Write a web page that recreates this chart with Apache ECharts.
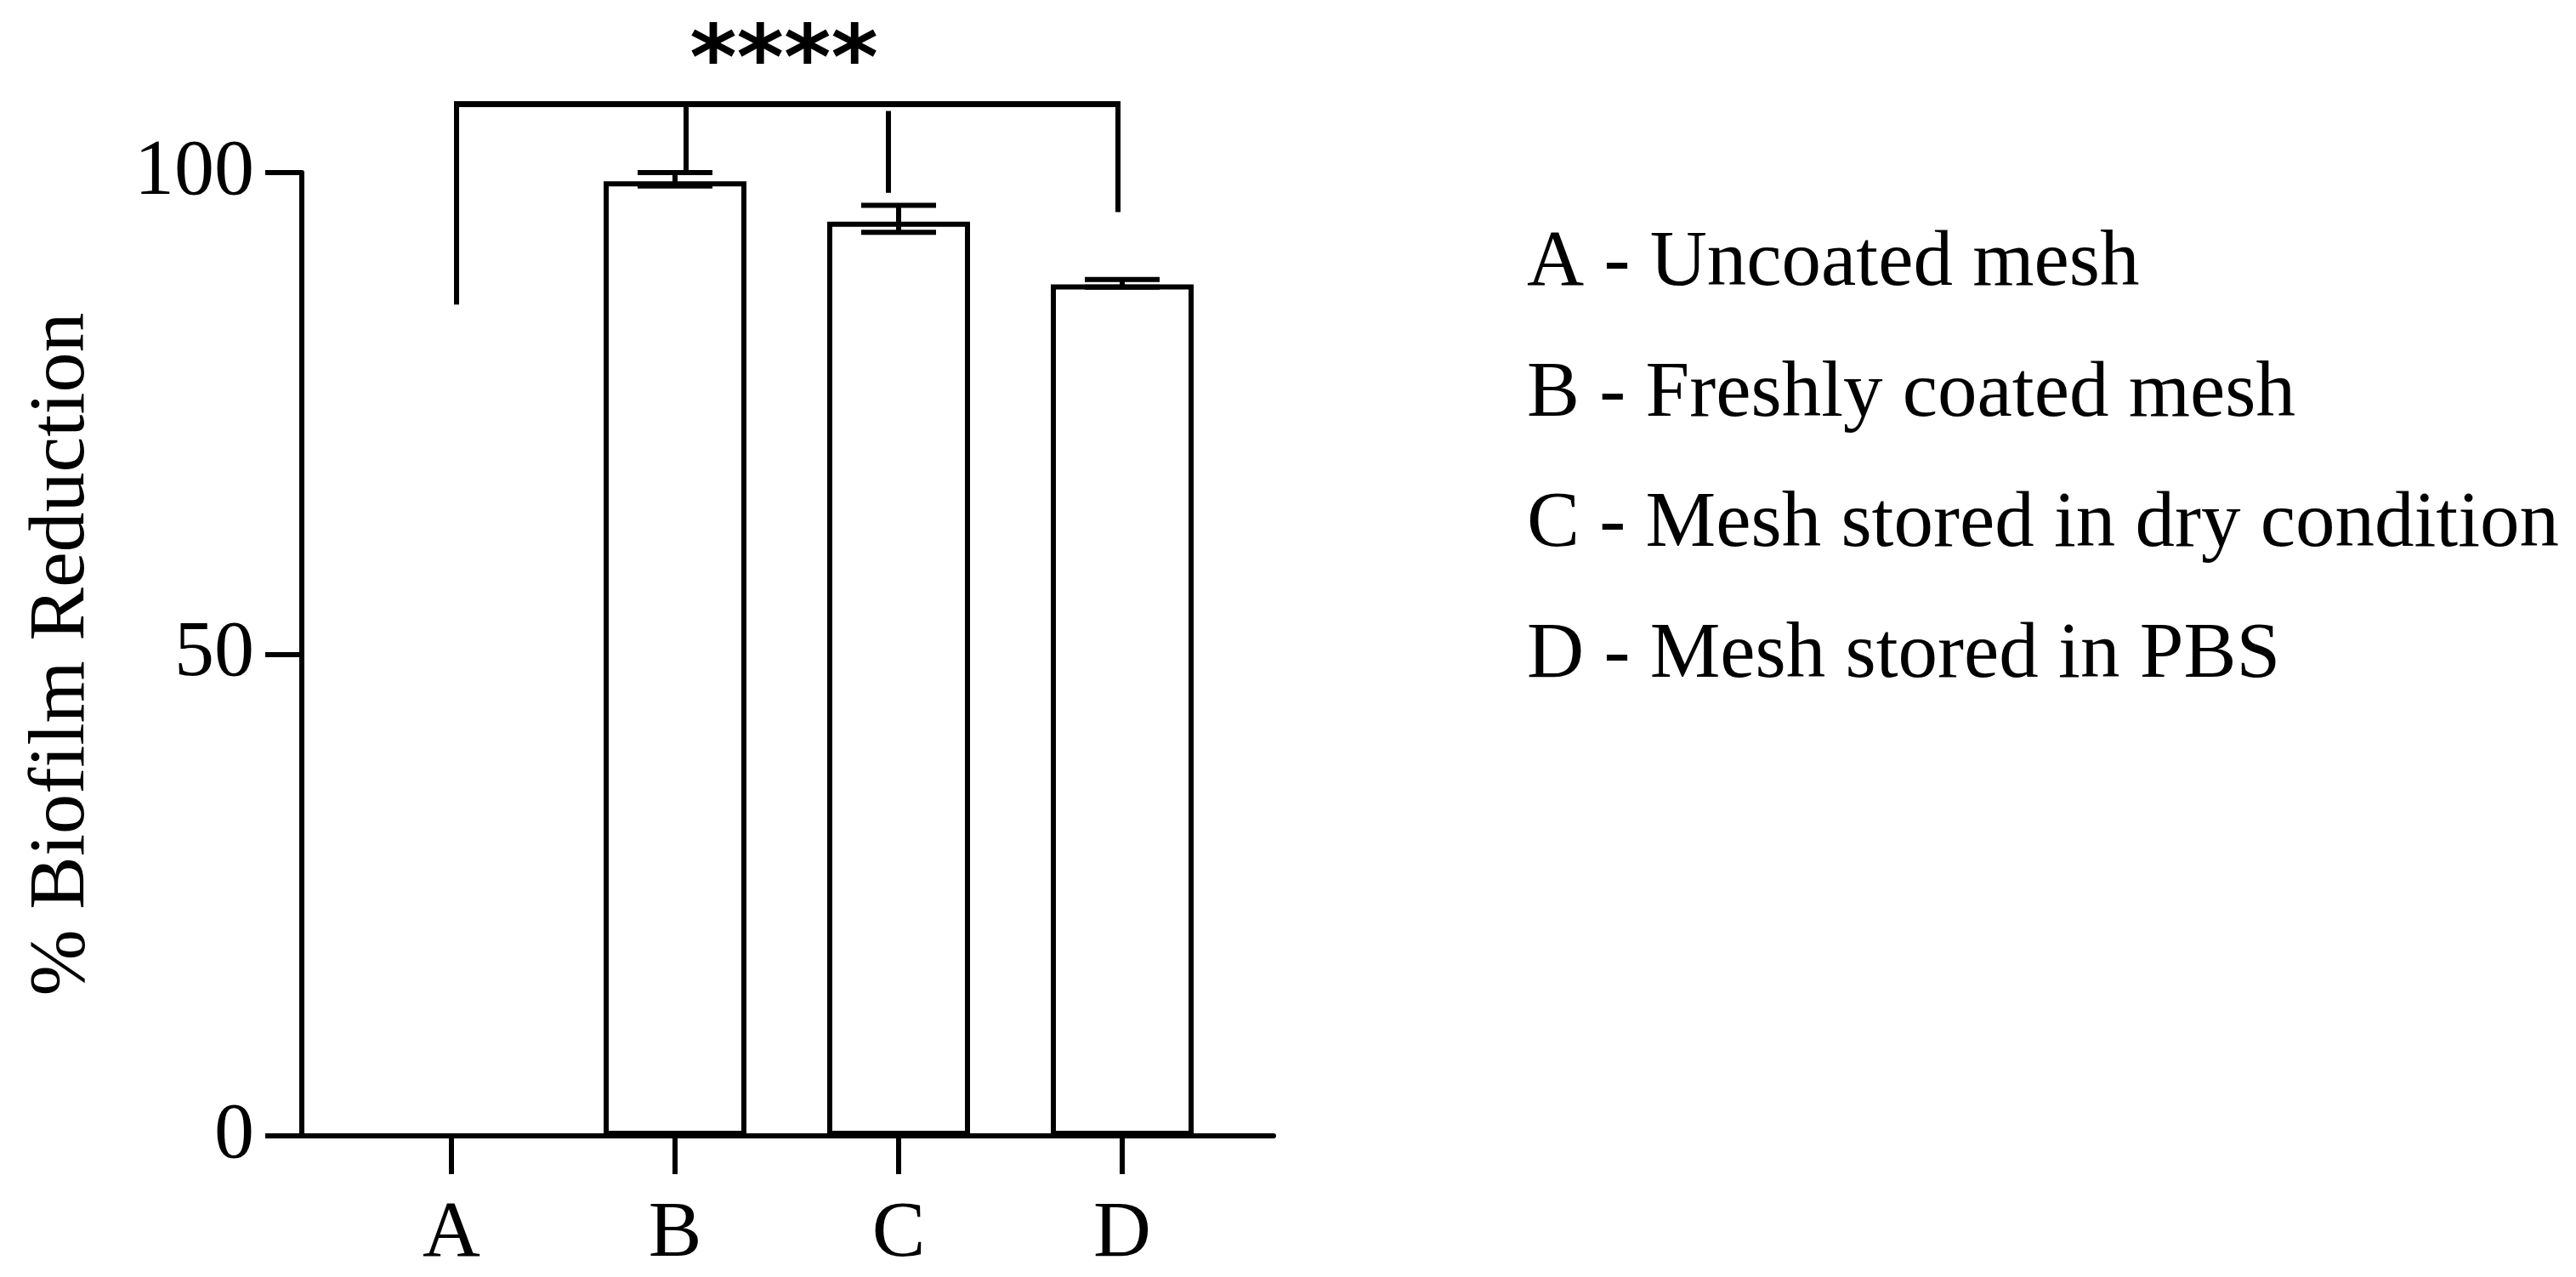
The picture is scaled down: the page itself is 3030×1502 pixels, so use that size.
<!DOCTYPE html>
<html>
<head>
<meta charset="utf-8">
<script src="https://cdn.jsdelivr.net/npm/echarts@6/dist/echarts.min.js"></script>
<style>
html,body{margin:0;padding:0;background:#fff;}
#chart{width:3030px;height:1502px;}
</style>
</head>
<body>
<div id="chart"></div>
<script>
// ---- data ----
const categories = ['A', 'B', 'C', 'D'];
const meanValues = [0, 99.1, 94.9, 88.4];
const errLow = [0, 98.6, 93.8, 88.1];
const errHigh = [0, 100.0, 96.6, 88.9];
const yTicks = [0, 50, 100];
const yTitle = '% Biofilm Reduction';
const legendLines = [
  'A - Uncoated mesh',
  'B - Freshly coated mesh',
  'C - Mesh stored in dry condition',
  'D - Mesh stored in PBS'
];
// significance bracket (values in y units)
const bracketTop = 107.1;
const bracketLegBottoms = [86.3, 100.0, null, 95.9]; // legs hanging from bracket (A, B, D)
const detachedLine = [106.4, 97.9];                  // short line above C
const sigLabel = '****';
const sigLabelY = 111.2;

// ---- style constants ----
const FONT = '"Liberation Serif", "Times New Roman", serif';
const FS = 94;
const LW = 6;
const legShift = [6, 13, -12, -5]; // px offsets of bracket legs from bar centres

const chart = echarts.init(document.getElementById('chart'), null, {renderer: 'canvas'});

const option = {
  backgroundColor: '#fff',
  animation: false,
  grid: [
    {left: 355, top: 203, width: 1143, height: 1133, containLabel: false, outerBoundsMode: 'none'},
    {left: 399.5, top: 203, width: 1052, height: 1133, containLabel: false, outerBoundsMode: 'none'}
  ],
  xAxis: [
    {
      gridIndex: 0, type: 'value', min: 0, max: 1,
      axisLine: {show: true, onZero: false, lineStyle: {color: '#000', width: LW}},
      axisTick: {show: false}, axisLabel: {show: false}, splitLine: {show: false}
    },
    {
      gridIndex: 1, type: 'category', data: categories,
      axisLine: {show: false},
      axisTick: {show: true, alignWithLabel: true, length: 45, lineStyle: {color: '#000', width: LW}},
      axisLabel: {show: true, interval: 0, margin: 69, color: '#000', fontFamily: FONT, fontSize: FS},
      splitLine: {show: false}
    }
  ],
  yAxis: [
    {
      gridIndex: 0, type: 'value', min: 0, max: 100, interval: 50,
      name: yTitle, nameLocation: 'middle', nameGap: 235,
      nameTextStyle: {color: '#000', fontFamily: FONT, fontSize: FS},
      axisLine: {show: true, lineStyle: {color: '#000', width: LW}},
      axisTick: {show: true, length: 43, lineStyle: {color: '#000', width: LW}},
      axisLabel: {
        show: true, margin: 56, color: '#000', fontFamily: FONT, fontSize: FS,
        formatter: v => (yTicks.indexOf(v) >= 0 ? String(v) : '')
      },
      splitLine: {show: false}
    },
    {gridIndex: 1, type: 'value', min: 0, max: 100, show: false}
  ],
  series: [
    {
      type: 'bar', xAxisIndex: 1, yAxisIndex: 1,
      data: meanValues, barWidth: 168,
      itemStyle: {color: '#fff', borderColor: '#000', borderWidth: LW},
      z: 2
    },
    {
      type: 'custom', xAxisIndex: 1, yAxisIndex: 1, clip: false, z: 3,
      data: categories.map((c, i) => [i, errLow[i], errHigh[i]]),
      renderItem: function (params, api) {
        const i = api.value(0);
        const lo = api.value(1), hi = api.value(2);
        if (lo === 0 && hi === 0) return null;
        const pLo = api.coord([i, lo]);
        const pHi = api.coord([i, hi]);
        const half = 44;
        const st = {stroke: '#000', lineWidth: LW, fill: null};
        return {
          type: 'group',
          children: [
            {type: 'line', shape: {x1: pLo[0], y1: pLo[1], x2: pHi[0], y2: pHi[1]}, style: st},
            {type: 'line', shape: {x1: pLo[0] - half, y1: pLo[1], x2: pLo[0] + half, y2: pLo[1]}, style: st},
            {type: 'line', shape: {x1: pHi[0] - half, y1: pHi[1], x2: pHi[0] + half, y2: pHi[1]}, style: st}
          ]
        };
      }
    },
    {
      type: 'custom', xAxisIndex: 1, yAxisIndex: 1, clip: false, z: 4,
      data: [[0, bracketTop]],
      renderItem: function (params, api) {
        const st = {stroke: '#000', lineWidth: LW, fill: null};
        const topY = api.coord([0, bracketTop])[1];
        const xs = categories.map((c, i) => api.coord([i, 0])[0] + legShift[i]);
        const children = [];
        children.push({type: 'line', shape: {x1: xs[0] - 3, y1: topY, x2: xs[3] + 3, y2: topY},
          style: {stroke: '#000', lineWidth: 7}});
        bracketLegBottoms.forEach((b, i) => {
          if (b === null) return;
          const yb = api.coord([i, b])[1];
          children.push({type: 'line', shape: {x1: xs[i], y1: topY, x2: xs[i], y2: yb}, style: st});
        });
        const d1 = api.coord([2, detachedLine[0]])[1];
        const d2 = api.coord([2, detachedLine[1]])[1];
        children.push({type: 'line', shape: {x1: xs[2], y1: d1, x2: xs[2], y2: d2}, style: st});
        const sy = api.coord([0, sigLabelY])[1];
        children.push({type: 'text', x: (xs[0] + xs[3]) / 2 - 4, y: sy,
          style: {text: sigLabel, fill: '#000', align: 'center', verticalAlign: 'middle',
            font: 'bold 106px "DejaVu Sans"'}});
        return {type: 'group', children: children};
      }
    }
  ],
  graphic: legendLines.map((t, i) => ({
    type: 'text', x: 1796, y: 311 + i * 153.5,
    style: {text: t, fill: '#000', verticalAlign: 'middle', font: '93px ' + FONT}
  }))
};

chart.setOption(option);
</script>
</body>
</html>
